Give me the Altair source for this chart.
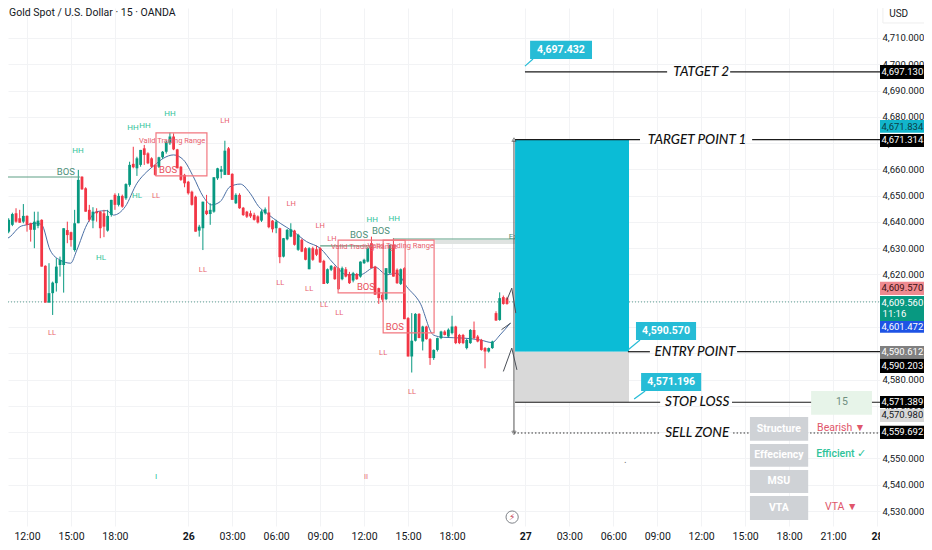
import altair as alt
import pandas as pd

# ---------- chart title and axes ----------
title_text = "Gold Spot / U.S. Dollar \u00b7 15 \u00b7 OANDA"
x_tick_pos = [0, 12, 24, 44, 56, 68, 80, 92, 104, 116, 136, 148, 160, 172, 184, 196, 208, 220, 232]
x_tick_lab = ["12:00", "15:00", "18:00", "26", "03:00", "06:00", "09:00", "12:00", "15:00", "18:00",
              "27", "03:00", "06:00", "09:00", "12:00", "15:00", "18:00", "21:00", "28"]
y_ticks = list(range(4530, 4711, 10))
x_domain = [-5.19, 232.8]
y_domain = [4524.3, 4721.4]

# ---------- candles: 15 minute bars, first one at bar -7 ----------
first_bar = -7
opens = [4638.5, 4633.8, 4636.3, 4638.9, 4643.3, 4641.4, 4640.1, 4642.3, 4639.5, 4637.0, 4638.5, 4640.8, 4623.3, 4609.3,
         4612.9, 4616.7, 4623.6, 4623.6, 4636.9, 4636.1, 4629.3, 4639.5, 4657.2, 4652.8, 4644.6, 4640.5, 4643.9, 4643.9,
         4643.3, 4636.7, 4642.7, 4650.3, 4646.5, 4649.9, 4649.0, 4654.1, 4662.1, 4660.4, 4661.7, 4668.0, 4666.1, 4664.2,
         4661.7, 4661.0, 4664.6, 4666.7, 4669.9, 4672.5, 4667.6, 4661.0, 4657.9, 4655.3, 4651.5, 4649.6, 4636.7, 4637.6,
         4644.3, 4643.0, 4643.9, 4656.6, 4659.1, 4657.9, 4668.0, 4658.3, 4647.1, 4650.3, 4645.4, 4643.9,
         4643.3, 4642.7, 4642.1, 4640.5, 4643.3, 4643.6, 4640.5, 4637.6, 4637.6, 4626.8, 4633.4, 4634.4, 4636.7, 4629.4,
         4633.2, 4630.0, 4622.0, 4630.0, 4629.6, 4630.0, 4625.2, 4616.7, 4621.8, 4622.8, 4622.4, 4618.2, 4622.0, 4620.2,
         4617.7, 4620.2, 4619.2, 4624.3, 4624.9, 4631.9, 4623.0, 4614.8, 4612.3, 4610.6, 4620.5, 4631.3, 4621.8, 4616.4,
         4622.4, 4603.4, 4588.8, 4594.8, 4605.0, 4594.5, 4600.2, 4595.4, 4588.2, 4591.3, 4595.8, 4598.3, 4596.4, 4597.7,
         4600.2, 4597.0, 4597.0, 4592.0, 4593.9, 4598.9, 4596.4, 4595.1, 4592.0, 4590.7, 4592.0, 4605.3, 4602.7, 4611.4,
         4611.0]
highs = [4639.5, 4639.5, 4641.4, 4643.5, 4645.2, 4644.6, 4646.8, 4642.5, 4639.7, 4643.9, 4643.9, 4641.0, 4623.5, 4624.3,
         4617.3, 4626.2, 4626.8, 4637.6, 4640.1, 4636.3, 4644.6, 4659.8, 4657.4, 4653.2, 4646.5, 4645.6, 4645.2, 4644.1,
         4644.6, 4644.6, 4648.4, 4650.9, 4650.9, 4650.4, 4654.7, 4662.9, 4668.6, 4664.8, 4667.4, 4669.3, 4666.5, 4664.6,
         4662.0, 4664.8, 4667.0, 4670.9, 4674.0, 4673.7, 4667.8, 4661.3, 4658.3, 4655.6, 4651.9, 4650.0, 4638.9, 4647.7,
         4650.3, 4647.1, 4657.0, 4660.6, 4661.3, 4670.9, 4668.5, 4658.5, 4650.9, 4650.9, 4645.7, 4644.2,
         4644.3, 4643.5, 4642.5, 4644.5, 4645.5, 4649.7, 4640.7, 4640.8, 4637.8, 4633.9, 4637.3, 4639.5, 4637.0, 4635.5,
         4633.6, 4630.4, 4630.4, 4630.6, 4631.0, 4630.4, 4625.6, 4622.3, 4623.6, 4623.3, 4622.8, 4623.0, 4622.8, 4621.0,
         4621.0, 4620.6, 4625.0, 4626.0, 4630.5, 4634.4, 4623.3, 4615.0, 4613.0, 4622.4, 4631.3, 4633.8, 4622.3, 4622.3,
         4622.8, 4603.8, 4605.3, 4605.3, 4605.3, 4600.5, 4600.5, 4595.8, 4591.5, 4596.0, 4598.6, 4598.8, 4599.5, 4604.3,
         4600.5, 4597.4, 4597.4, 4595.5, 4599.2, 4602.1, 4597.0, 4595.5, 4592.4, 4592.2, 4594.8, 4606.0, 4613.2, 4612.0,
         4611.5]
lows = [4633.1, 4633.1, 4635.7, 4638.4, 4639.7, 4639.7, 4639.5, 4636.3, 4632.5, 4630.0, 4637.6, 4623.0, 4609.3, 4609.3,
        4604.6, 4613.5, 4619.2, 4613.1, 4631.9, 4630.6, 4628.7, 4639.5, 4652.2, 4643.9, 4640.1, 4637.6, 4640.1, 4633.8,
        4634.2, 4636.3, 4642.0, 4644.6, 4645.9, 4645.4, 4648.4, 4653.4, 4660.4, 4657.5, 4661.0, 4661.7, 4662.0, 4660.6,
        4657.5, 4660.5, 4664.0, 4666.0, 4669.3, 4667.3, 4660.4, 4655.6, 4653.2, 4650.4, 4646.2, 4636.3, 4634.4, 4629.3,
        4642.6, 4638.9, 4643.5, 4656.0, 4656.6, 4657.9, 4657.9, 4648.4, 4646.8, 4645.0, 4642.3, 4641.5,
        4641.5, 4640.5, 4639.4, 4640.0, 4642.8, 4637.6, 4636.0, 4635.7, 4624.3, 4626.5, 4633.0, 4634.2, 4631.0, 4629.0,
        4628.5, 4625.4, 4622.0, 4625.2, 4627.0, 4624.4, 4616.4, 4616.4, 4621.3, 4618.0, 4614.2, 4617.8, 4618.9, 4616.4,
        4617.0, 4618.0, 4618.8, 4624.0, 4624.6, 4622.4, 4612.3, 4608.8, 4609.5, 4610.2, 4620.2, 4619.2, 4616.4, 4616.0,
        4603.0, 4588.8, 4582.7, 4594.5, 4595.8, 4591.1, 4595.2, 4585.6, 4587.5, 4590.7, 4595.4, 4596.8, 4596.0, 4597.2,
        4593.5, 4593.5, 4593.5, 4591.5, 4593.6, 4595.4, 4594.2, 4591.0, 4584.3, 4590.3, 4591.7, 4602.3, 4602.4, 4608.5,
        4608.5]
closes = [4633.4, 4638.9, 4640.8, 4643.0, 4640.1, 4639.7, 4642.3, 4638.9, 4637.0, 4640.1, 4640.5, 4623.0, 4609.3, 4612.9,
          4616.9, 4623.0, 4625.5, 4637.6, 4635.0, 4633.1, 4639.5, 4656.0, 4652.4, 4643.9, 4640.8, 4643.9, 4643.3, 4637.6,
          4638.2, 4642.3, 4648.4, 4646.5, 4649.9, 4645.8, 4654.4, 4661.7, 4660.8, 4664.2, 4667.4, 4665.5, 4662.3, 4661.0,
          4657.9, 4664.6, 4666.7, 4670.5, 4672.5, 4667.6, 4660.4, 4656.0, 4654.7, 4650.9, 4646.5, 4636.3, 4638.2, 4647.7,
          4643.0, 4644.6, 4657.0, 4660.4, 4660.0, 4667.1, 4657.9, 4648.4, 4650.3, 4645.2, 4642.6, 4642.0,
          4642.1, 4640.8, 4639.8, 4644.0, 4644.8, 4638.0, 4637.2, 4640.1, 4626.6, 4633.8, 4637.0, 4637.2, 4631.3, 4635.1,
          4628.7, 4625.6, 4630.0, 4625.6, 4627.5, 4624.6, 4616.4, 4622.0, 4623.3, 4618.2, 4614.4, 4622.4, 4619.2, 4616.7,
          4620.5, 4618.2, 4624.9, 4625.6, 4630.0, 4622.4, 4612.3, 4611.0, 4610.4, 4622.4, 4631.3, 4619.2, 4616.7, 4622.0,
          4603.0, 4588.8, 4594.8, 4605.0, 4595.8, 4600.2, 4595.4, 4588.2, 4591.3, 4595.8, 4598.3, 4597.0, 4599.0, 4600.2,
          4593.9, 4593.9, 4593.9, 4595.1, 4598.9, 4595.8, 4594.5, 4591.3, 4590.7, 4592.0, 4594.5, 4602.5, 4611.0, 4608.8,
          4608.8]

# ---------- moving average ----------
ma_bar = [-7.4, -4.6, -1.9, -0.1, 2.6, 4, 6.3, 9, 11.9, 13.6, 16.3, 19, 21.7, 23.6, 26.8, 30, 32.7, 34.9, 37.2, 40, 42.7,
          45.4, 48.1, 50.4, 52.7, 55.4, 58.2, 60.9, 63.2, 65.4, 69.1, 72.7, 76.3, 80, 83.6, 87.3, 90.9, 95, 98.2, 100.9,
          103.6, 107.3, 110.9, 113.6, 119.1, 123.7, 126.9, 129.1, 131.9]
ma_val = [4632.5, 4634.4, 4638.2, 4638.9, 4639.5, 4638.9, 4629.3, 4625.5, 4624.3, 4629.3, 4638.9, 4643.9, 4644.3, 4642.6,
          4645.8, 4654.7, 4659.1, 4661.7, 4664.2, 4665.5, 4663.6, 4657.2, 4649.6, 4646.5, 4647.7, 4653.4, 4654.4, 4650.9,
          4645.9, 4643.3, 4639.5, 4636.3, 4632.5, 4630.0, 4624.3, 4619.9, 4619.9, 4622.8, 4619.9, 4620.5, 4615.4, 4609.1,
          4597.0, 4596.1, 4595.8, 4595.1, 4594.1, 4597.0, 4601.5]

# ---------- annotations on the candles ----------
green_small = [("HH", 13.9, 4667.0), ("HH", 28.9, 4675.8), ("HH", 32.2, 4676.5), ("HH", 39.0, 4681.1),
               ("HL", 30.0, 4649.9), ("HL", 20.2, 4626.3), ("HH", 94.2, 4640.7), ("HH", 100.2, 4641.1),
               ("I", 35.2, 4543.0)]
red_small = [("LH", 54.0, 4678.4), ("LL", 6.8, 4597.8), ("LL", 48.0, 4621.7), ("LL", 35.2, 4649.9),
             ("LH", 72.1, 4646.8), ("LH", 80.0, 4638.5), ("LH", 83.2, 4633.5), ("LL", 69.1, 4616.8),
             ("LL", 77.0, 4614.5), ("LL", 81.1, 4608.4), ("LL", 85.2, 4605.4), ("LL", 97.2, 4590.1),
             ("LL", 105.1, 4575.3), ("II", 92.5, 4543.0),
             ("Valid Trading Range", 39.6, 4670.8), ("Valid Trading Range", 92.0, 4630.5),
             ("Valid Trading Range", 102.0, 4631.0)]
bos_green = [("BOS", 10.6, 4659.0), ("BOS", 90.6, 4635.0), ("BOS", 96.6, 4636.5)]
bos_red = [("BOS", 38.5, 4659.8), ("BOS", 92.5, 4615.3), ("BOS", 100.4, 4600.0)]
range_left = [35.2, 84.9, 97.2]
range_right = [49.1, 103.2, 111.1]
range_top = [4673.9, 4633.1, 4633.1]
range_bottom = [4657.5, 4613.0, 4597.8]
bos_left = [-5.19, 80.0, 99.9]
bos_right = [14.5, 94.2, 133.2]
bos_level = [4657.1, 4630.9, 4633.5]

# ---------- the trade drawing ----------
last_price = 4609.56
trade_left, trade_right = 133.2, 164.3
target_1, entry, stop = 4671.314, 4590.570, 4571.389
target_2, sell_zone = 4697.13, 4559.692
solid_left = [135.9, 191.9, 133.2, 197.9, 164.0, 193.8, 133.2, 192.4]
solid_right = [174.7, 232.8, 167.3, 232.8, 170.0, 232.8, 172.8, 232.8]
solid_level = [target_2, target_2, target_1, target_1, 4590.612, 4590.612, stop, stop]
dot_left = [132.9, 192.7]
dot_right = [172.8, 232.8]
hand_labels = [("TATGET 2", 184.0, target_2), ("TARGET POINT  1", 182.9, target_1), ("ENTRY POINT", 182.3, 4590.612),
               ("STOP LOSS", 182.9, stop), ("SELL ZONE", 182.9, sell_zone)]
call_text = ["4,697.432", "4,590.570", "4,571.196"]
call_left = [137.3, 166.2, 167.6]
call_right = [154.2, 182.6, 184.0]
call_top = [4708.9, 4601.9, 4582.5]
call_bottom = [4702.0, 4595.1, 4575.7]
call_mid_bar = [145.7, 174.4, 175.8]
call_mid_val = [4705.4, 4598.5, 4579.1]
ptr_bar = [138.1, 135.9, 167.3, 164.0, 168.7, 165.7]
ptr_val = [4702.0, 4699.3, 4595.1, 4591.3, 4575.7, 4572.6]
ptr_grp = [0, 0, 1, 1, 2, 2]
zig_bar = [130.0, 132.3, 133.7, 131.0, 132.3, 133.4, 129.5, 132.0]
zig_val = [4583.1, 4592.0, 4583.7, 4610.4, 4614.8, 4605.3, 4599.0, 4601.5]
zig_grp = [0, 0, 0, 1, 1, 1, 2, 2]

# ---------- panel ----------
panel_names = ["Structure", "Effeciency", "MSU", "VTA"]
panel_top = [4565.8, 4555.5, 4545.6, 4535.7]
panel_bottom = [4556.7, 4546.8, 4536.9, 4526.6]
panel_mid = [4561.2, 4551.2, 4541.3, 4531.2]
panel_left, panel_right, panel_center = 197.3, 213.2, 205.2

# ---------- price scale badges ----------
badge_text = ["4,697.130", "4,671.834", "4,671.314", "4,609.570", "4,609.560", "4,601.472", "4,590.612", "4,590.203",
              "4,571.389", "4,570.980", "4,559.692"]
badge_top = [4699.7, 4678.8, 4673.5, 4617.2, 4611.8, 4602.3, 4592.8, 4587.9, 4573.8, 4568.8, 4562.4]
badge_bottom = [4694.4, 4673.9, 4668.5, 4612.2, 4602.3, 4597.8, 4587.9, 4582.5, 4569.2, 4563.9, 4557.4]
badge_mid = [4697.1, 4676.3, 4671.0, 4614.7, 4609.2, 4600.0, 4590.4, 4585.2, 4571.5, 4566.4, 4559.9]
badge_fill = ["#000000", "#12b5cb", "#000000", "#ef8a90", "#089981", "#1e53e5", "#808080", "#000000", "#000000",
              "#d8d8d8", "#000000"]
badge_ink = ["#ffffff", "#0b3d45", "#ffffff", "#3a1012", "#ffffff", "#ffffff", "#ffffff", "#ffffff", "#ffffff",
             "#131722", "#ffffff"]
badge_left, badge_right, badge_center = 232.8, 245.9, 238.9

GREEN, RED = "#089981", "#f23645"
FONT = "Roboto"
HAND = "Lato"

x_scale = alt.Scale(domain=x_domain, nice=False, zero=False)
y_scale = alt.Scale(domain=y_domain, nice=False, zero=False)

label_js = ",".join("'" + s + "'" for s in x_tick_lab)
pos_js = ",".join(str(v) for v in x_tick_pos)
x_axis = alt.Axis(
    values=x_tick_pos, labelExpr=f"[{label_js}][indexof([{pos_js}], datum.value)]", title=None,
    grid=True, gridColor="#f2f3f5", domain=False, ticks=False, labelPadding=5, labelFont=FONT, labelFontSize=10.5,
    labelColor="#131722", labelFlush=False, labelOverlap=False, labelBound=False,
    labelFontWeight={"condition": {"test": "datum.value==44||datum.value==136||datum.value==232", "value": "bold"},
                     "value": "normal"})
y_axis = alt.Axis(
    orient="right", values=y_ticks, format=",.3f", title=None, grid=True, gridColor="#f2f3f5", domain=False, ticks=False,
    labelPadding=2, labelFont=FONT, labelFontSize=9.5, labelColor="#131722", labelOverlap=False, labelBound=False,
    labelAlign="left")


def X(f="i"):
    return alt.X(f"{f}:Q", scale=x_scale, axis=x_axis)


def Y(f="p"):
    return alt.Y(f"{f}:Q", scale=y_scale, axis=y_axis)


def X2(f):
    return alt.X2(field=f)


def Y2(f):
    return alt.Y2(field=f)


def df_text(rows):
    return pd.DataFrame(rows, columns=["t", "i", "p"])


def texts(rows, color, size, **kw):
    return alt.Chart(df_text(rows)).mark_text(color=color, fontSize=size, font=kw.pop("font", FONT), **kw).encode(
        x=X(), y=Y(), text="t:N")


def boxes(left, right, top, bottom, **kw):
    d = pd.DataFrame({"a": left, "b": right, "c": top, "d": bottom})
    return alt.Chart(d).mark_rect(**kw).encode(x=X("a"), x2=X2("b"), y=Y("c"), y2=Y2("d"))


def hlines(left, right, level, **kw):
    d = pd.DataFrame({"a": left, "b": right, "p": level})
    return alt.Chart(d).mark_rule(**kw).encode(x=X("a"), x2=X2("b"), y=Y())


# candles
c = pd.DataFrame({"o": opens, "h": highs, "l": lows, "c": closes})
c["i"] = [first_bar + k for k in range(len(c))]
c["col"] = [GREEN if b >= a else RED for a, b in zip(opens, closes)]
wicks = alt.Chart(c).mark_rule(strokeWidth=1).encode(x=X(), y=Y("h"), y2=Y2("l"), color=alt.Color("col:N", scale=None))
bodies = alt.Chart(c).mark_rule(strokeWidth=2.8).encode(x=X(), y=Y("o"), y2=Y2("c"),
                                                        color=alt.Color("col:N", scale=None))
ma = alt.Chart(pd.DataFrame({"i": ma_bar, "p": ma_val})).mark_line(color="#4a6fa5", strokeWidth=1, interpolate="monotone").encode(
    x=X(), y=Y())

price_line = hlines([-5.19], [232.8], [last_price], color="#5d9f92", strokeDash=[1, 2], strokeWidth=1)
bos_band = boxes([111.4], [133.2], [4633.1], [4631.6], color="#dfe3e1")
bos_lines = hlines(bos_left, bos_right, bos_level, color="#5f9f86", strokeWidth=1.2)
ranges = boxes(range_left, range_right, range_top, range_bottom, fill="#f23645", fillOpacity=0.012, stroke="#f2767f",
               strokeWidth=1.2)

teal = boxes([trade_left], [trade_right], [target_1], [entry], color="#0bbcd6")
gray = boxes([trade_left], [trade_right], [entry], [stop], color="#d9d9d9")
arrow = alt.Chart(pd.DataFrame({"i": [132.9], "a": [target_1], "b": [sell_zone]})).mark_rule(
    color="#555555", strokeWidth=1).encode(x=X(), y=Y("a"), y2=Y2("b"))
arrow_heads = alt.Chart(pd.DataFrame({"i": [132.9, 132.9], "p": [target_1, sell_zone], "g": ["triangle-up", "triangle-down"]})).mark_point(
    size=18, color="#444444", filled=False, strokeWidth=0.8).encode(x=X(), y=Y(), shape=alt.Shape("g:N", scale=None))
zig = alt.Chart(pd.DataFrame({"i": zig_bar, "p": zig_val, "g": zig_grp, "k": list(range(len(zig_bar)))})).mark_line(
    color="#4a4f57", strokeWidth=1).encode(x=X(), y=Y(), detail="g:N", order="k:Q")

solid = hlines(solid_left, solid_right, solid_level, color="#1a1a1a", strokeWidth=1.2)
dotted = hlines(dot_left, dot_right, [sell_zone, sell_zone], color="#333333", strokeWidth=1, strokeDash=[1.5, 2])
hand = texts(hand_labels, "#111111", 13.5, font=HAND, fontStyle="italic", fontWeight=500)

ptr = alt.Chart(pd.DataFrame({"i": ptr_bar, "p": ptr_val, "g": ptr_grp, "k": list(range(len(ptr_bar)))})).mark_line(
    color="#26bcd6", strokeWidth=1.2).encode(x=X(), y=Y(), detail="g:N", order="k:Q")
calls = boxes(call_left, call_right, call_top, call_bottom, color="#26bcd6")
call_t = texts(list(zip(call_text, call_mid_bar, call_mid_val)), "#ffffff", 10.5, fontWeight="bold")

panel = boxes([panel_left] * 4, [panel_right] * 4, panel_top, panel_bottom, color="#cfd2d6")
panel_t = texts([(n, panel_center, m) for n, m in zip(panel_names, panel_mid)], "#ffffff", 10.5, fontWeight="bold")
tf_box = boxes([214.0], [230.6], [4575.7], [4566.6], color="#e7f4e9")
tf_t = texts([("15", 222.4, 4571.5)], "#6f8f80", 10.5)
stat_red = texts([("Bearish \u25bc", 222.2, 4561.6), ("VTA \u25bc", 222.2, 4531.5)], "#e0566b", 10.5)
stat_green = texts([("Efficient \u2713", 222.2, 4551.7)], "#2fc39a", 10.5, fontWeight=500)

bolt_ring = alt.Chart(pd.DataFrame({"i": [132.4], "p": [4527.7]})).mark_point(size=150, color="#4a4f57", strokeWidth=1).encode(
    x=X(), y=Y())
bolt = texts([("\u26a1", 132.4, 4527.7)], "#c2334a", 9, font="DejaVu Sans")
dot_t = texts([(".", 163.3, 4549.5)], "#777777", 10)

# price scale
axis_cover = boxes([232.8], [badge_right + 2], [4524.3], [4518.0], color="#ffffff")
bdf = pd.DataFrame({"a": [badge_left] * len(badge_text), "b": [badge_right] * len(badge_text), "c": badge_top,
                    "d": badge_bottom, "f": badge_fill, "t": badge_text, "m": badge_mid, "k": badge_ink,
                    "i": [badge_center] * len(badge_text)})
badge_rect = alt.Chart(bdf).mark_rect().encode(x=X("a"), x2=X2("b"), y=Y("c"), y2=Y2("d"),
                                               fill=alt.Fill("f:N", scale=None))
badge_txt = alt.Chart(bdf).mark_text(font=FONT, fontSize=9.5).encode(x=X(), y=Y("m"), text="t:N",
                                                                     color=alt.Color("k:N", scale=None))
timer = texts([("11:16", 233.5, 4604.9)], "#ffffff", 9.5, align="left")
usd_box = boxes([233.6], [245.9], [4722.6], [4715.7], fill="#ffffff", stroke="#eeeeee")
usd_t = texts([("USD", 235.3, 4719.1)], "#131722", 10, align="left")
title = texts([(title_text, -4.9, 4719.5)], "#131722", 10.5, align="left")

layers = [
    price_line, bos_band, ma, wicks, bodies, bos_lines, ranges,
    texts(green_small, "#2fc39a", 8), texts(red_small, "#e8606d", 7.5),
    texts(bos_green, "#4d8f78", 9.5), texts(bos_red, "#e8505c", 9.5),
    texts([("Ex", 131.5, 4634.3)], "#4d8f78", 8, align="left"),
    teal, gray, arrow, arrow_heads, zig, solid, dotted, hand, ptr, calls, call_t,
    tf_box, tf_t, panel, panel_t, stat_red, stat_green, bolt_ring, bolt, dot_t,
    axis_cover, badge_rect, badge_txt, timer, usd_box, usd_t, title,
]

chart = alt.layer(*layers).properties(
    width=872, height=518, background="#ffffff",
    padding={"left": 0, "top": 0, "right": 44, "bottom": 16},
    autosize=alt.AutoSizeParams(type="none"),
).configure_view(stroke=None)

chart.save("out.html", embed_options={"renderer": "svg", "actions": False})
